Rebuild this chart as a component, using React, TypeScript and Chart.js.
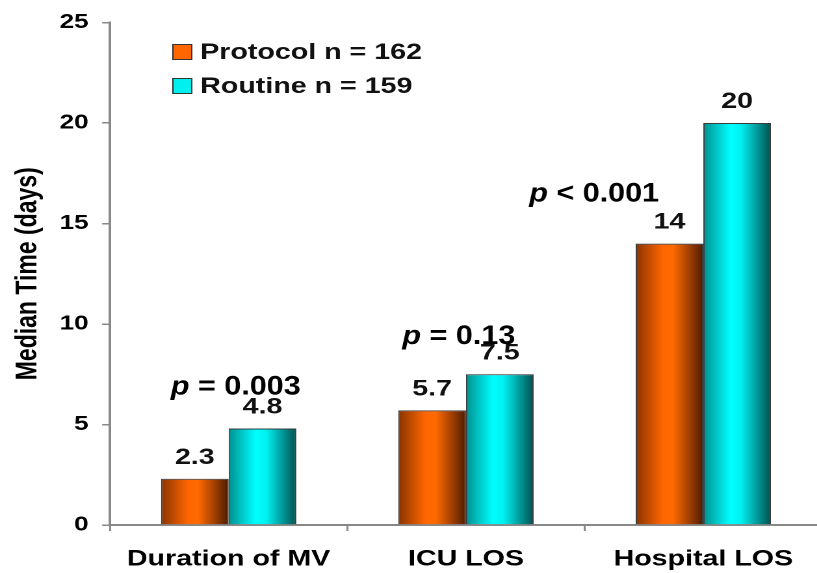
import React, { useEffect, useRef } from "react";
import { Chart, registerables } from "chart.js";

Chart.register(...registerables);

// ---- data ----
const categories = ["Duration of MV", "ICU LOS", "Hospital LOS"];
const seriesNames = ["Protocol n = 162", "Routine n = 159"];
const protocolValues = [2.3, 5.7, 14];
const routineValues = [4.8, 7.5, 20];
const yTickValues = [0, 5, 10, 15, 20, 25];
const pValueItalic = ["p", "p", "p"];
const pValueRest = [" = 0.003", " = 0.13", " < 0.001"];
const pValueX = [0.03, 0.97, 1.54]; // category-axis position
const pValueY = [6.5, 9.0, 16.1]; // value-axis baseline

// ---- style ----
const STRETCH = 1.3;
const W = 645;
const H = 573;
const FONT = "'Liberation Sans', Arial, Helvetica, sans-serif";
const seriesGradients = [
  ["#8a3400", "#ff6600", "#ff6a00", "#4e1c00"],
  ["#009090", "#00ffff", "#00f2f2", "#005050"],
];
const seriesFlat = ["#ff6600", "#00f0f0"];

const overlayPlugin = {
  id: "overlay",
  beforeDatasetsDraw(chart: any) {
    const ctx = chart.ctx;
    chart.data.datasets.forEach((_ds: any, di: number) => {
      const meta = chart.getDatasetMeta(di);
      meta.data.forEach((el: any) => {
        const { x, width } = el.getProps(["x", "width"], true);
        const g = ctx.createLinearGradient(x - width / 2, 0, x + width / 2, 0);
        const c = seriesGradients[di];
        g.addColorStop(0, c[0]);
        g.addColorStop(0.4, c[1]);
        g.addColorStop(0.55, c[2]);
        g.addColorStop(1, c[3]);
        try {
          el.options.backgroundColor = g;
        } catch (e) {}
      });
    });
  },
  afterDatasetsDraw(chart: any) {
    const ctx = chart.ctx;
    const xs = chart.scales.x;
    const ys = chart.scales.y;
    ctx.save();
    // value labels
    ctx.fillStyle = "#111";
    ctx.font = `bold 22px ${FONT}`;
    ctx.textAlign = "center";
    ctx.textBaseline = "alphabetic";
    chart.data.datasets.forEach((ds: any, di: number) => {
      const meta = chart.getDatasetMeta(di);
      meta.data.forEach((el: any, i: number) => {
        const { x, y } = el.getProps(["x", "y"], true);
        ctx.fillText(String(ds.data[i]), x, y - 15);
      });
    });
    // p-values (slightly condensed)
    ctx.textAlign = "left";
    const k = 0.87;
    for (let i = 0; i < pValueRest.length; i++) {
      const cx = xs.getPixelForValue(pValueX[i]);
      const by = ys.getPixelForValue(pValueY[i]);
      ctx.font = `italic bold 27px ${FONT}`;
      const w1 = ctx.measureText(pValueItalic[i]).width;
      ctx.font = `bold 27px ${FONT}`;
      const w2 = ctx.measureText(pValueRest[i]).width;
      ctx.save();
      ctx.translate(cx, by);
      ctx.scale(k, 1);
      const sx = -(w1 + w2) / 2;
      ctx.fillStyle = "#000";
      ctx.font = `italic bold 27px ${FONT}`;
      ctx.fillText(pValueItalic[i], sx, 0);
      ctx.font = `bold 27px ${FONT}`;
      ctx.fillText(pValueRest[i], sx + w1, 0);
      ctx.restore();
    }
    // legend
    const lx = 133;
    const rows = [52, 86];
    ctx.textBaseline = "middle";
    ctx.font = `bold 22px ${FONT}`;
    seriesNames.forEach((name, i) => {
      const cy = rows[i];
      ctx.fillStyle = seriesFlat[i];
      ctx.fillRect(lx, cy - 7.5, 14.5, 15);
      ctx.strokeStyle = "#333";
      ctx.lineWidth = 1;
      ctx.strokeRect(lx, cy - 7.5, 14.5, 15);
      ctx.fillStyle = "#111";
      ctx.fillText(name, 154, cy + 1);
    });
    ctx.restore();
  },
};

export default function App() {
  const ref = useRef<HTMLCanvasElement | null>(null);
  useEffect(() => {
    if (!ref.current) return;
    const chart = new Chart(ref.current, {
      type: "bar",
      data: {
        labels: categories,
        datasets: [
          {
            label: seriesNames[0],
            data: protocolValues,
            backgroundColor: () => seriesFlat[0],
            borderColor: "#3a3a3a",
            borderWidth: 1,
          },
          {
            label: seriesNames[1],
            data: routineValues,
            backgroundColor: () => seriesFlat[1],
            borderColor: "#3a3a3a",
            borderWidth: 1,
          },
        ],
      },
      options: {
        responsive: false,
        animation: false,
        devicePixelRatio: 2,
        layout: { padding: { left: 0, right: 12.7, top: 18, bottom: 0 } },
        datasets: { bar: { categoryPercentage: 0.57, barPercentage: 1 } },
        plugins: { legend: { display: false }, tooltip: { enabled: false } },
        scales: {
          x: {
            afterFit: (s: any) => {
              s.height = 48;
            },
            grid: { drawOnChartArea: false, tickLength: 6, color: "#888", lineWidth: 1.5 },
            border: { color: "#888", width: 2 },
            ticks: { color: "#000", padding: 15, font: { family: FONT, size: 22, weight: "bold" } },
          },
          y: {
            min: 0,
            max: 25,
            afterFit: (s: any) => {
              s.width = 84.6;
            },
            afterBuildTicks: (s: any) => {
              s.ticks = yTickValues.map((v) => ({ value: v }));
            },
            grid: { drawOnChartArea: false, tickLength: 6, color: "#888", lineWidth: 1.5 },
            border: { color: "#888", width: 2 },
            ticks: { color: "#000", padding: 10.5, font: { family: FONT, size: 20, weight: "bold" } },
            title: {
              display: true,
              text: "Median Time (days)",
              color: "#000",
              padding: { top: 8, bottom: 0 },
              font: { family: FONT, size: 23, weight: "bold" },
            },
          },
        },
      },
      plugins: [overlayPlugin],
    });
    return () => chart.destroy();
  }, []);
  return (
    <div
      style={{
        position: "fixed",
        left: 0,
        top: 0,
        width: 817,
        height: 573,
        overflow: "hidden",
        background: "#fff",
      }}
    >
      <div style={{ width: W, height: H, transform: `scaleX(${STRETCH})`, transformOrigin: "0 0" }}>
        <canvas ref={ref} width={W} height={H} style={{ width: W, height: H, display: "block" }} />
      </div>
    </div>
  );
}
